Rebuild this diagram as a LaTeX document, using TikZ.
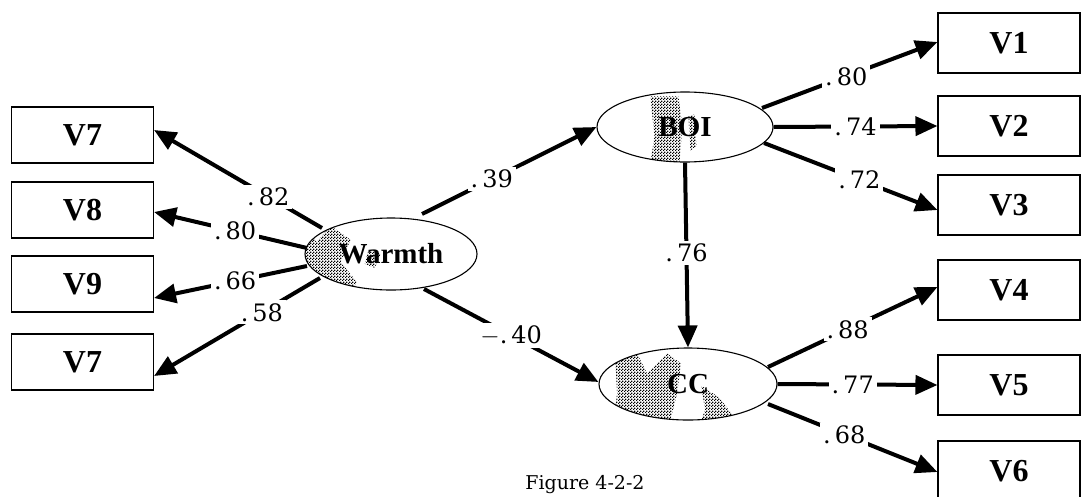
\documentclass[tikz,border=0pt]{standalone}
\usepackage{fontspec}
\setmainfont{Liberation Serif}
\newfontfamily\coeffont{DejaVu Serif}
\usetikzlibrary{arrows.meta,calc,patterns,shapes.geometric}

% dense checkerboard stipple used inside the latent factors
\pgfdeclarepatternformonly{stipple}{\pgfpointorigin}{\pgfpoint{3pt}{3pt}}{\pgfpoint{3pt}{3pt}}{%
  \pgfpathrectangle{\pgfpointorigin}{\pgfpoint{1.5pt}{1.5pt}}%
  \pgfpathrectangle{\pgfpoint{1.5pt}{1.5pt}}{\pgfpoint{1.5pt}{1.5pt}}%
  \pgfusepath{fill}}

\begin{document}
\begin{tikzpicture}[x=1pt,y=-1pt,
  obs/.style={draw, line width=1.1pt, minimum width=142pt, minimum height=56pt,
    inner sep=0pt, font=\fontsize{32}{36}\selectfont\bfseries},
  lat/.style={ellipse, draw, line width=1.1pt, fill=white, inner sep=0pt,
    font=\fontsize{29}{33}\selectfont\bfseries},
  pth/.style={line width=4pt, -{Triangle[length=22pt,width=19pt]}},
  coef/.style={fill=white, inner sep=3pt, font=\fontsize{24}{28}\selectfont\coeffont},
  stip/.style={pattern=stipple, pattern color=black}]

\clip (0,0) rectangle (1083,496);

% observed indicators, left column
\node[obs] (v7a) at (82.5,135) {V7};
\node[obs] (v8)  at (82.5,210) {V8};
\node[obs] (v9)  at (82.5,284) {V9};
\node[obs] (v7b) at (82.5,362) {V7};

% observed indicators, right column
\node[obs, minimum height=60pt] (v1) at (1009,43)  {V1};
\node[obs, minimum height=60pt] (v2) at (1009,126) {V2};
\node[obs, minimum height=60pt] (v3) at (1009,205) {V3};
\node[obs, minimum height=60pt] (v4) at (1009,290) {V4};
\node[obs, minimum height=60pt] (v5) at (1009,385) {V5};
\node[obs, minimum height=60pt] (v6) at (1009,471) {V6};

% latent factors with stippled shading
\node[lat, minimum width=172pt, minimum height=72pt,
  path picture={\begin{scope}[shift={(path picture bounding box.center)}]
    \fill[stip] (-90,-5) -- (-62,-30) -- (-32,-38) -- (-22,-22) -- (-8,-38)
      -- (12,-24) -- (2,-2) -- (18,18) -- (8,40) -- (-40,40) -- (-75,24) -- cycle;
    \fill[stip] (30,-14) -- (42,-10) -- (36,4) -- (26,0) -- cycle;
  \end{scope}}] (warmth) at (391,254) {Warmth};

\node[lat, minimum width=176pt, minimum height=70pt,
  path picture={\begin{scope}[shift={(path picture bounding box.center)}]
    \fill[stip] (-8,-40) -- (20,-40) -- (24,-10) -- (20,40) -- (-10,40) -- (-4,0) -- cycle;
    \fill[stip] (30,-20) -- (36,-22) -- (38,10) -- (32,14) -- cycle;
  \end{scope}}] (boi) at (685,127) {BOI};

\node[lat, minimum width=178pt, minimum height=72pt,
  path picture={\begin{scope}[shift={(path picture bounding box.center)}]
    \fill[stip] (-52,-40) -- (-30,-40) -- (-20,-20) -- (0,-40) -- (14,-30)
      -- (10,0) -- (0,40) -- (-55,40) -- (-50,0) -- cycle;
    \fill[stip] (34,-8) -- (52,4) -- (72,30) -- (60,40) -- (30,40) -- (38,16) -- cycle;
  \end{scope}}] (cc) at (688,384) {CC};

% Warmth -> left indicators
\draw[pth] ($(warmth.center)+(-69,-26)$) -- ($(v7a.east)+(0,-5)$)
  node[coef, pos=0.32] (c82) {.\,82};
\draw[pth] ($(warmth.center)+(-84,-6)$) -- ($(v8.east)+(0,2)$)
  node[coef, pos=0.47] (c80a) {.\,80};
\draw[pth] ($(warmth.center)+(-84,12)$) -- ($(v9.east)+(0,14)$)
  node[coef, pos=0.47] (c66) {.\,66};
\draw[pth] ($(warmth.center)+(-71,24)$) -- ($(v7b.east)+(0,14)$)
  node[coef, pos=0.35] (c58) {.\,58};

% structural paths
\draw[pth] ($(warmth.center)+(31,-40)$) -- (boi.west)
  node[coef, pos=0.4] (c39) {.\,39};
\draw[pth] ($(warmth.center)+(33,35)$) -- ($(cc.west)+(0,-2)$)
  node[coef, pos=0.5] (c40) {$-$.\,40};
\draw[pth] (boi.south) -- (cc.north)
  node[coef, pos=0.49] (c76) {.\,76};

% BOI -> V1..V3
\draw[pth] ($(boi.center)+(77,-19)$) -- ($(v1.west)+(0,-1)$)
  node[coef, pos=0.48] (c80b) {.\,80};
\draw[pth] (boi.east) -- (v2.west)
  node[coef, pos=0.5] (c74) {.\,74};
\draw[pth] ($(boi.center)+(79,16)$) -- ($(v3.west)+(0,5)$)
  node[coef, pos=0.55] (c72) {.\,72};

% CC -> V4..V6
\draw[pth] ($(cc.center)+(80,-17)$) -- ($(v4.west)+(0,-3)$)
  node[coef, pos=0.47] (c88) {.\,88};
\draw[pth] (cc.east) -- (v5.west)
  node[coef, pos=0.47] (c77) {.\,77};
\draw[pth] ($(cc.center)+(80,20)$) -- ($(v6.west)+(0,1)$)
  node[coef, pos=0.45] (c68) {.\,68};

% caption
\node[font=\fontsize{19}{22}\selectfont\coeffont, anchor=south, inner sep=0pt] (cap) at (585,494) {Figure 4-2-2};
\end{tikzpicture}
\end{document}
